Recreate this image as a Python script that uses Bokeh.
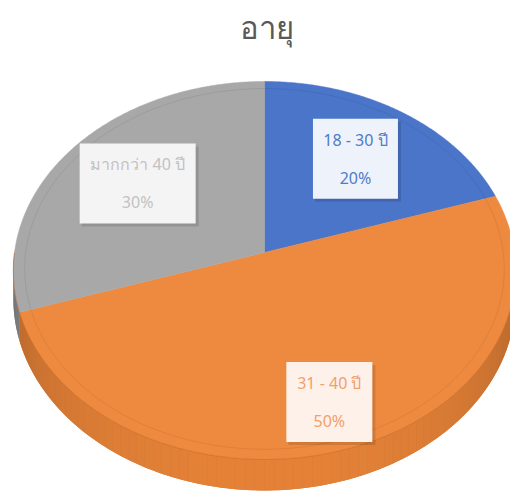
import numpy as np
from bokeh.plotting import figure
from bokeh.models import Range1d, ColumnDataSource
from bokeh.core.properties import value
from bokeh.embed import file_html
from bokeh.resources import INLINE

# ---- data ----
title_text = "อายุ"
categories = ["18 - 30 ปี", "31 - 40 ปี", "มากกว่า 40 ปี"]
percents = [20, 50, 30]

# ---- styles ----
top_colors = ["#4A75C8", "#EE8A3F", "#A8A8A8"]
side_colors = ["#3F68B5", "#E58238", "#959595"]
label_text_colors = ["#4F7BCB", "#F2A06A", "#C2C2C2"]
label_fill_colors = ["#EEF2FA", "#FDF1EA", "#F4F4F4"]
label_radius = [0.65, 0.78, 0.65]
label_box_w = [85, 86, 116]
label_box_h = 80

W, H, OFF = 510, 499, 0
CX, CY = 264, 252
A, B, K = 250.0, 187.3, 0.0952
T = 28.0


def proj(theta, f=1.0):
    u = f * np.sin(theta)
    v = f * np.cos(theta)
    d = 1 + K * v
    return CX + A * u / d, CY - B * v / d


def shade(hex_color, factor):
    h = hex_color.lstrip("#")
    r, g, b = (int(h[i:i + 2], 16) for i in (0, 2, 4))
    return "#%02x%02x%02x" % tuple(max(0, min(255, int(c * factor))) for c in (r, g, b))


p = figure(width=W, height=H, output_backend="svg", toolbar_location=None,
           x_range=Range1d(OFF, OFF + W), y_range=Range1d(OFF + H, OFF),
           min_border=0, outline_line_color=None)
p.axis.visible = False
p.grid.visible = False
p.background_fill_color = "white"

total = float(sum(percents))
fr = np.array(percents) / total
ends = np.cumsum(fr) * 2 * np.pi
starts = np.concatenate([[0], ends[:-1]])

# ---- side walls (front half) ----
base_x, base_y, base_c = [], [], []
xs_side, ys_side, cols_side = [], [], []
for i in range(len(percents)):
    a = max(starts[i], np.pi / 2)
    b = min(ends[i], 3 * np.pi / 2)
    if a >= b:
        continue
    th_all = np.linspace(a, b, 200)
    x0, y0 = proj(th_all)
    yb = y0 + T / (1 + K * np.cos(th_all))
    base_x.append(list(x0) + list(x0[::-1]))
    base_y.append(list(y0) + list(yb[::-1]))
    base_c.append(shade(side_colors[i], 0.9))
    n = max(2, int((b - a) / (np.pi / 90)))
    th = np.linspace(a, b, n + 1)
    for j in range(n):
        t0, t1 = th[j], th[j + 1]
        tt = np.array([t0, t1])
        x0, y0 = proj(tt)
        yb = y0 + T / (1 + K * np.cos(tt))
        xs_side.append(list(x0) + list(x0[::-1]))
        ys_side.append(list(y0) + list(yb[::-1]))
        tm = 0.5 * (t0 + t1)
        fac = 0.66 + 0.34 * abs(np.cos(tm - np.pi)) ** 0.6
        cols_side.append(shade(side_colors[i], fac))
p.patches(base_x, base_y, fill_color=base_c, line_color=None)
p.patches(xs_side, ys_side, fill_color=cols_side, line_color=None)

# ---- top face ----
xs_top, ys_top = [], []
for i in range(len(percents)):
    th = np.linspace(starts[i], ends[i], 200)
    x, y = proj(th)
    xs_top.append([CX] + list(x))
    ys_top.append([CY] + list(y))
p.patches(xs_top, ys_top, fill_color=top_colors, line_color=top_colors, line_width=0.5)

# bevel ring
thr = np.linspace(0, 2 * np.pi, 400)
bx, by = proj(thr, 0.955)
p.line(bx, by, line_color="black", line_alpha=0.07, line_width=1)
# front rim line
thf = np.linspace(np.pi / 2, 3 * np.pi / 2, 200)
fx, fy = proj(thf)
p.line(fx, fy, line_color="#B8601F", line_alpha=0.45, line_width=1)

# ---- labels ----
mids = 0.5 * (starts + ends)
lx, ly = [], []
for i in range(len(percents)):
    x, y = proj(mids[i], label_radius[i])
    lx.append(float(x))
    ly.append(float(y))
lx = np.array(lx)
ly = np.array(ly)
bw = np.array(label_box_w)
p.quad(left=lx - bw / 2 + 2, right=lx + bw / 2 + 3, top=ly - label_box_h / 2 + 3,
       bottom=ly + label_box_h / 2 + 3, fill_color="black", fill_alpha=0.12, line_color=None)
p.quad(left=lx - bw / 2, right=lx + bw / 2, top=ly - label_box_h / 2,
       bottom=ly + label_box_h / 2, fill_color=label_fill_colors, line_color=None)

src = ColumnDataSource(dict(
    x=list(lx) + list(lx),
    y=list(ly - 19) + list(ly + 19),
    t=categories + ["%d%%" % v for v in percents],
    c=label_text_colors + label_text_colors,
))
p.text(x="x", y="y", text="t", text_color="c", source=src,
       text_align="center", text_baseline="middle",
       text_font=value("Noto Sans"), text_font_size="16px")

# ---- title ----
p.text(x=[CX + 2], y=[26], text=[title_text], text_align="center", text_baseline="middle",
       text_font=value("Noto Sans"), text_font_size="31px", text_color="#595959")

open("out.html", "w").write(file_html(p, INLINE))
